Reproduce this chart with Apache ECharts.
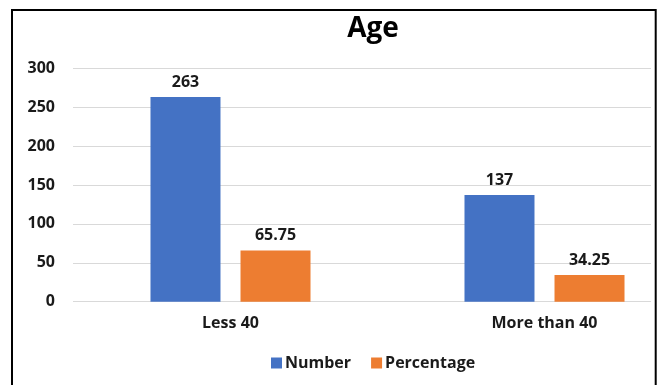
<!DOCTYPE html>
<html>
<head>
<meta charset="utf-8">
<script src="https://cdn.jsdelivr.net/npm/echarts@6/dist/echarts.min.js"></script>
<style>
  html, body { margin: 0; padding: 0; background: #fff; }
  #chart { width: 660px; height: 385px; }
</style>
</head>
<body>
<div id="chart"></div>
<script>
// Age groups and their counts / shares
const categories = ['Less 40', 'More than 40'];
const numberValues = [263, 137];
const percentageValues = [65.75, 34.25];
const seriesNames = ['Number', 'Percentage'];
const yTicks = { min: 0, max: 300, step: 50 };

const FONT = '"Open Sans", "Noto Sans", sans-serif';
const TEXT = '#1a1a1a';

const chart = echarts.init(document.getElementById('chart'), null, { renderer: 'canvas' });

const labelStyle = {
  show: true,
  position: 'top',
  distance: 7,
  fontFamily: FONT,
  fontWeight: 'bold',
  fontSize: 16,
  color: TEXT
};

chart.setOption({
  animation: false,
  backgroundColor: '#fff',
  title: {
    text: 'Age',
    left: 368,
    top: 10,
    textAlign: 'center',
    textStyle: { fontFamily: FONT, fontWeight: 'bold', fontSize: 28, color: '#000' }
  },
  legend: {
    data: seriesNames,
    bottom: 9,
    left: 266,
    itemWidth: 11,
    itemHeight: 11,
    itemGap: 20,
    icon: 'rect',
    textStyle: { fontFamily: FONT, fontWeight: 'bold', fontSize: 16, color: TEXT, padding: [0, 0, 0, -2] }
  },
  grid: [
    // value scale and gridlines
    { left: 73, right: 9, top: 68.3, bottom: 83.3 },
    // category placement of the bars
    { left: 73.5, width: 628, top: 68.3, bottom: 83.3, outerBoundsMode: 'none', containLabel: false }
  ],
  xAxis: [
    { type: 'category', gridIndex: 0, data: categories, show: false },
    {
      type: 'category', gridIndex: 1, data: categories,
      axisLine: { show: false }, axisTick: { show: false },
      axisLabel: { margin: 14, fontFamily: FONT, fontWeight: 'bold', fontSize: 16, color: TEXT }
    }
  ],
  yAxis: [
    {
      type: 'value', gridIndex: 0,
      min: yTicks.min, max: yTicks.max, interval: yTicks.step,
      axisLine: { show: false }, axisTick: { show: false },
      axisLabel: { margin: 18, fontFamily: FONT, fontWeight: 'bold', fontSize: 16, color: TEXT },
      splitLine: { lineStyle: { color: '#d9d9d9', width: 1 } }
    },
    {
      type: 'value', gridIndex: 1,
      min: yTicks.min, max: yTicks.max, interval: yTicks.step,
      show: false, splitLine: { show: false }
    }
  ],
  series: [
    {
      name: seriesNames[0], type: 'bar', xAxisIndex: 1, yAxisIndex: 1,
      data: numberValues, barWidth: 70, barGap: '28.6%',
      itemStyle: { color: '#4472c4' },
      label: labelStyle
    },
    {
      name: seriesNames[1], type: 'bar', xAxisIndex: 1, yAxisIndex: 1,
      data: percentageValues, barWidth: 70, barGap: '28.6%',
      itemStyle: { color: '#ed7d31' },
      label: labelStyle
    }
  ],
  graphic: [
    {
      type: 'rect', z: 100,
      shape: { x: 12, y: 10, width: 643.7, height: 400 },
      style: { fill: 'none', stroke: '#000', lineWidth: 2 }
    }
  ]
});
</script>
</body>
</html>
